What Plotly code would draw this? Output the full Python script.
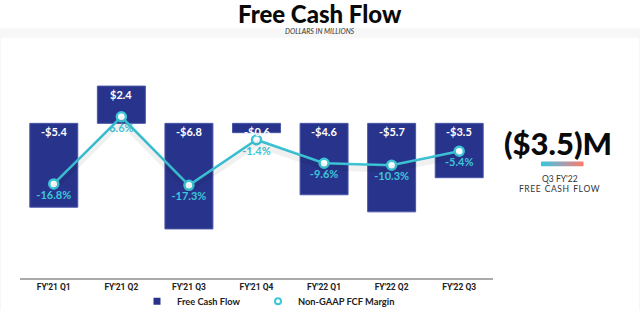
import plotly.graph_objects as go

# ---- data ----
quarters = ["FY'21 Q1", "FY'21 Q2", "FY'21 Q3", "FY'21 Q4", "FY'22 Q1", "FY'22 Q2", "FY'22 Q3"]
fcf = [-5.4, 2.4, -6.8, -0.6, -4.6, -5.7, -3.5]          # $M
fcf_margin = [-16.8, 6.6, -17.3, -1.4, -9.6, -10.3, -5.4]  # %
series_names = ["Free Cash Flow", "Non-GAAP FCF Margin"]

NAVY = "#28348c"
CYAN = "#3cc6d8"

# plot area in pixels: x 20..493, y 60..294
L, R, T, B = 20, 147, 60, 34
W, H = 640, 328
PW, PH = W - L - R, H - T - B


def px(x):
    return (x - L) / PW


def py(y):
    return (H - B - y) / PH


def money(v):
    return ("-$%.1f" % abs(v)) if v < 0 else ("$%.1f" % v)


HEAVY = "Lato Black, Lato"

fig = go.Figure()

fig.add_trace(go.Bar(
    x=quarters, y=fcf, width=0.71,
    marker=dict(color=NAVY, line=dict(color="#4a56a8", width=1)),
    showlegend=False, hoverinfo="x+y",
))

# soft shadow of the margin line (same data on a shifted axis)
fig.add_trace(go.Scatter(
    x=quarters, y=fcf_margin, yaxis="y3", mode="lines",
    line=dict(color="rgba(0,0,0,0.06)", width=7),
    showlegend=False, hoverinfo="skip",
))

fig.add_trace(go.Scatter(
    x=quarters, y=fcf_margin, yaxis="y2", mode="lines+markers+text",
    line=dict(color=CYAN, width=2.5),
    marker=dict(size=9, color="white", line=dict(color=CYAN, width=2.5)),
    text=["%.1f%%" % v for v in fcf_margin],
    textposition="bottom center",
    textfont=dict(family="Lato", size=11, color=CYAN, weight="bold"),
    showlegend=False,
))

# legend-only entries
fig.add_trace(go.Scatter(
    x=[None], y=[None], mode="markers", name=series_names[0], legend="legend",
    marker=dict(symbol="square", size=7, color=NAVY),
))
fig.add_trace(go.Scatter(
    x=[None], y=[None], mode="markers", name=series_names[1], yaxis="y2", legend="legend2",
    marker=dict(symbol="circle-open", size=6, color=CYAN, line=dict(width=2)),
))

annotations = []
for q, v in zip(quarters, fcf):
    annotations.append(dict(
        x=q, y=max(v, 0), xref="x", yref="y", yanchor="top", yshift=0,
        text=money(v), showarrow=False,
        font=dict(family="Lato", size=11, color="white", weight="bold"),
    ))

last = fcf[-1]
big = ("($%.1f)M" % abs(last)) if last < 0 else ("$%.1fM" % last)
spaced = "\u2002".join("\u200a".join(w) for w in "FREE CASH FLOW".split(" "))

common = dict(xref="paper", yref="paper", xanchor="center", yanchor="middle", showarrow=False)
annotations += [
    dict(x=px(320), y=py(10), text="Free Cash Flow",
         font=dict(family=HEAVY, size=24, color="#0a0a0a", weight=900), **common),
    dict(x=px(320), y=py(28.8), text="<i>DOLLARS IN MILLIONS</i>",
         font=dict(family="Lato", size=7, color="#333"), **common),
    dict(x=px(558), y=py(149), text=big,
         font=dict(family=HEAVY, size=31, color="#0a0a0a", weight=900), **common),
    dict(x=px(560), y=py(188), text="Q3 FY'22",
         font=dict(family="Lato", size=8.5, color="#333"), **common),
    dict(x=px(559), y=py(198), text=spaced,
         font=dict(family="Lato", size=8.5, color="#333"), **common),
]

shapes = [
    dict(type="rect", xref="paper", yref="paper", x0=px(0), x1=px(640), y0=py(328), y1=py(26),
         fillcolor="#f7f7f7", line=dict(width=0), layer="below"),
    dict(type="rect", xref="paper", yref="paper", x0=px(1), x1=px(639), y0=py(328), y1=py(36),
         fillcolor="white", line=dict(width=0), layer="below"),
]

# gradient underline
c0, c1, c2 = (60, 198, 216), (160, 160, 180), (250, 125, 105)
n = 21
x_start, x_end = 541, 583
for i in range(n):
    t = i / (n - 1)
    if t < 0.5:
        a, b_, u = c0, c1, t / 0.5
    else:
        a, b_, u = c1, c2, (t - 0.5) / 0.5
    col = "rgb(%d,%d,%d)" % tuple(int(a[k] + (b_[k] - a[k]) * u) for k in range(3))
    xa = x_start + (x_end - x_start) * i / n
    xb = x_start + (x_end - x_start) * (i + 1) / n + 0.5
    shapes.append(dict(type="rect", xref="paper", yref="paper", x0=px(xa), x1=px(xb),
                       y0=py(174), y1=py(169), fillcolor=col, line=dict(width=0)))

y1_top, y1_bot = 4.08, -9.96
y2_top, y2_bot = 26.42, -49.63
shift = 4 / 3.077

legend_font = dict(family="Lato", size=9.3, color="#222", weight="bold")

fig.update_layout(
    width=W, height=H,
    margin=dict(l=L, r=R, t=T, b=B),
    paper_bgcolor="white", plot_bgcolor="rgba(0,0,0,0)",
    font=dict(family="Lato", color="#222"),
    xaxis=dict(showgrid=False, zeroline=False, showline=True, linecolor="#aaaaaa", linewidth=2,
               ticks="", tickfont=dict(family="Liberation Sans Narrow, Roboto", size=8.5, color="#222", weight="bold"),
               range=[-0.5, 6.5]),
    yaxis=dict(range=[y1_bot, y1_top], visible=False),
    yaxis2=dict(range=[y2_bot, y2_top], overlaying="y", visible=False),
    yaxis3=dict(range=[y2_bot + shift, y2_top + shift], overlaying="y", visible=False),
    annotations=annotations,
    shapes=shapes,
    showlegend=True,
    legend=dict(orientation="h", x=px(137), xanchor="left", y=py(319), yanchor="middle",
                font=legend_font, bgcolor="rgba(0,0,0,0)"),
    legend2=dict(orientation="h", x=px(258), xanchor="left", y=py(319), yanchor="middle",
                 font=legend_font, bgcolor="rgba(0,0,0,0)"),
)

fig.write_html("out.html")
